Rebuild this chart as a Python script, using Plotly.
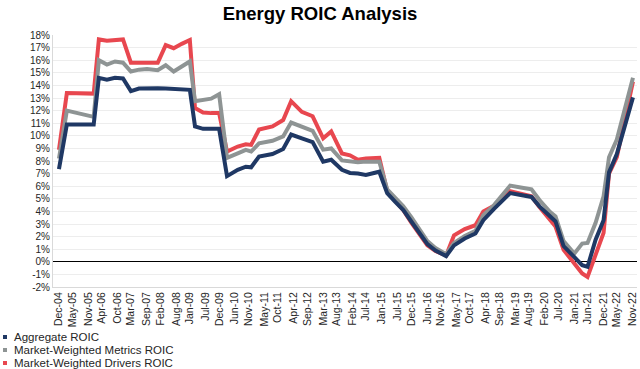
import plotly.graph_objects as go
import pandas as pd

# ---- data (percent) ----
dates = [
    "2004-12", "2005-03", "2006-01", "2006-03", "2006-06", "2006-09", "2006-12", "2007-03", "2007-06", "2007-09",
    "2008-01", "2008-04", "2008-07", "2008-10", "2009-01", "2009-03", "2009-06", "2009-09", "2009-12", "2010-03",
    "2010-07", "2010-10", "2010-12", "2011-03", "2011-08", "2011-12", "2012-03", "2012-07", "2012-11", "2013-03",
    "2013-06", "2013-10", "2014-01", "2014-04", "2014-07", "2014-12", "2015-03", "2015-06", "2015-09", "2015-12",
    "2016-03", "2016-06", "2016-09", "2017-01", "2017-04", "2017-08", "2017-12", "2018-03", "2018-07", "2018-10",
    "2019-01", "2019-05", "2019-09", "2019-12", "2020-04", "2020-06", "2020-09", "2021-01", "2021-04", "2021-06",
    "2021-09", "2021-12", "2022-02", "2022-05", "2022-08", "2022-11",
]

aggregate_roic = [
    7.35, 10.9, 10.9, 14.6, 14.45, 14.6, 14.55, 13.55, 13.75, 13.78,
    13.78, 13.75, 13.72, 13.7, 13.65, 10.75, 10.55, 10.55, 10.55, 6.8,
    7.3, 7.55, 7.5, 8.35, 8.55, 8.95, 10.1, 9.8, 9.5, 7.95,
    8.1, 7.3, 7.05, 7.0, 6.9, 7.15, 5.45, 4.75, 4.1, 3.2,
    2.3, 1.4, 0.9, 0.45, 1.3, 1.85, 2.25, 3.3, 4.2, 4.85,
    5.45, 5.3, 5.15, 4.4, 3.6, 3.2, 1.25, 0.35, -0.27, -0.4,
    1.75, 3.3, 7.1, 8.55, 10.8, 13.05,
]

metrics_roic = [
    8.2, 12.0, 11.5, 16.0, 15.65, 15.9, 15.8, 15.1, 15.25, 15.3,
    15.2, 15.6, 15.1, 15.5, 15.9, 12.75, 12.85, 12.95, 13.3, 8.25,
    8.6, 8.88, 8.75, 9.4, 9.6, 9.95, 11.05, 10.7, 10.4, 8.9,
    9.0, 8.05, 7.95, 7.9, 7.95, 7.95, 5.75, 5.1, 4.4, 3.55,
    2.6, 1.65, 1.1, 0.6, 1.5, 2.05, 2.45, 3.7, 4.5, 5.3,
    6.05, 5.9, 5.75, 4.9, 3.95, 3.6, 1.65, 0.65, 1.45, 1.5,
    3.1, 5.2, 8.3, 9.7, 12.1, 14.6,
]

drivers_roic = [
    8.9, 13.4, 13.35, 17.65, 17.55, 17.6, 17.65, 15.8, 15.8, 15.8,
    15.8, 17.2, 16.95, 17.3, 17.6, 12.2, 11.85, 11.8, 11.8, 8.75,
    9.15, 9.33, 9.28, 10.5, 10.75, 11.25, 12.75, 11.9, 11.55, 9.8,
    10.35, 8.6, 8.45, 8.1, 8.2, 8.25, 5.6, 4.85, 4.1, 3.1,
    2.2, 1.3, 0.85, 0.5, 2.1, 2.6, 2.9, 4.0, 4.45, 5.0,
    5.6, 5.4, 5.2, 4.35, 3.3, 2.8, 0.95, -0.15, -0.92, -1.2,
    0.45, 2.3, 7.0, 8.3, 11.3, 14.3,
]

tick_labels = [
    "Dec-04", "May-05", "Nov-05", "Apr-06", "Oct-06", "Mar-07", "Sep-07", "Feb-08", "Aug-08", "Jan-09",
    "Jul-09", "Dec-09", "Jun-10", "Nov-10", "May-11", "Oct-11", "Apr-12", "Sep-12", "Mar-13", "Aug-13",
    "Feb-14", "Jul-14", "Jan-15", "Jul-15", "Dec-15", "Jun-16", "Nov-16", "May-17", "Oct-17", "Apr-18",
    "Sep-18", "Mar-19", "Aug-19", "Feb-20", "Jul-20", "Jan-21", "Jun-21", "Dec-21", "May-22", "Nov-22",
]

y_ticks = list(range(-2, 19))

series_names = ["Aggregate ROIC", "Market-Weighted Metrics ROIC", "Market-Weighted Drivers ROIC"]

# ---- styling ----
NAVY = "#1f3864"
GRAY = "#8e9494"
RED = "#e8474f"
FONT = "Arial, 'Liberation Sans', sans-serif"
TEXT = "#262626"

W, H = 640, 369
ML, MR, MT, MB = 53, 3, 35, 82
PW, PH = W - ML - MR, H - MT - MB

x = pd.to_datetime(dates)
series = [
    (series_names[2], drivers_roic, RED),
    (series_names[1], metrics_roic, GRAY),
    (series_names[0], aggregate_roic, NAVY),
]

fig = go.Figure()
for name, vals, color in series:
    fig.add_trace(go.Scatter(
        x=x, y=vals, mode="lines", name=name,
        line=dict(color=color, width=4), showlegend=False,
        hovertemplate="%{x|%b-%y}: %{y:.1f}%<extra>" + name + "</extra>",
    ))

tickvals = pd.to_datetime(tick_labels, format="%b-%y")
x_start = pd.Timestamp("2004-12-01") - pd.Timedelta(days=68)
x_end = pd.Timestamp("2022-11-01") + pd.Timedelta(days=46)

fig.update_layout(
    width=W, height=H,
    margin=dict(l=ML, r=MR, t=MT, b=MB, pad=0),
    paper_bgcolor="white", plot_bgcolor="white",
    font=dict(family=FONT, color=TEXT),
    title=dict(
        text="<b>Energy ROIC Analysis</b>",
        font=dict(family=FONT, size=18.5, color="#000000"),
        x=0.5, xref="container", xanchor="center",
        y=1 - 14 / H, yref="container", yanchor="middle",
    ),
    xaxis=dict(
        type="date", range=[x_start, x_end],
        tickmode="array", tickvals=tickvals, ticktext=tick_labels,
        tickangle=-90, tickfont=dict(size=10.5, color=TEXT),
        showgrid=False, showline=True, linecolor="#d9d9d9", linewidth=1,
        ticks="", zeroline=False,
    ),
    yaxis=dict(
        range=[-2, 18], tickmode="array", tickvals=y_ticks,
        ticktext=[f"{v}%" for v in y_ticks],
        tickfont=dict(size=10, color=TEXT),
        showgrid=True, gridcolor="#ededed", gridwidth=1,
        showline=True, linecolor="#d9d9d9", linewidth=1,
        zeroline=True, zerolinecolor="#000000", zerolinewidth=1.3,
        ticks="",
    ),
    showlegend=False,
)

# legend built from small square swatches + text, bottom-left like the original
legend_colors = [NAVY, GRAY, RED]
for i, (name, color) in enumerate(zip(series_names, legend_colors)):
    py = 337 + 13 * i
    yp = (H - MB - py) / PH
    mx = (5 - ML) / PW
    tx = (12 - ML) / PW
    fig.add_shape(
        type="rect", xref="paper", yref="paper",
        xsizemode="pixel", ysizemode="pixel",
        xanchor=mx, yanchor=yp, x0=-2, x1=2, y0=-2, y1=2,
        fillcolor=color, line=dict(width=0),
    )
    fig.add_annotation(
        text=name, xref="paper", yref="paper", x=tx, y=yp,
        xanchor="left", yanchor="middle", showarrow=False,
        font=dict(family=FONT, size=11.5, color=TEXT),
    )

fig.write_html(
    "out.html",
    config={"displayModeBar": False},
    post_script="document.body.style.margin='0';",
)
